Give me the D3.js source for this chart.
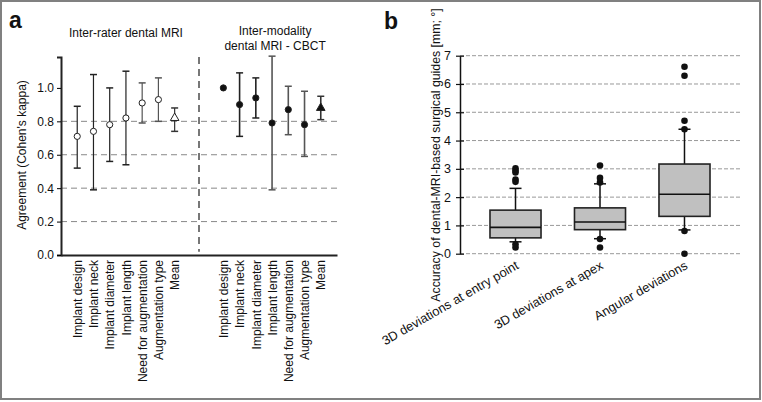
<!DOCTYPE html>
<html><head><meta charset="utf-8">
<script src="https://cdn.jsdelivr.net/npm/d3@7"></script>
<style>
body{margin:0;background:#fff;}
text{font-family:"Liberation Sans",Arial,sans-serif;fill:#111;}
</style></head>
<body><svg id="c" width="762" height="402"></svg>
<script>
// ---------- Panel a data ----------
const categoriesA = ["Implant design","Implant neck","Implant diameter","Implant length","Need for augmentation","Augmentation type","Mean"];
const interRaterKappa = [0.71,0.74,0.78,0.82,0.91,0.93,0.82];
const interRaterLow   = [0.52,0.39,0.56,0.54,0.79,0.80,0.74];
const interRaterHigh  = [0.89,1.08,1.00,1.10,1.03,1.06,0.88];
const interModKappa   = [1.00,0.90,0.94,0.79,0.87,0.78,0.88];
const interModLow     = [null,0.71,0.82,0.39,0.72,0.59,0.81];
const interModHigh    = [null,1.09,1.06,1.19,1.01,0.98,0.95];
const yTicksA = [0.0,0.2,0.4,0.6,0.8,1.0];
const gridA = [0.2,0.4,0.6,0.8];
const titleA1 = "Inter-rater dental MRI";
const titleA2 = ["Inter-modality","dental MRI - CBCT"];

// ---------- Panel b data ----------
const categoriesB = ["3D deviations at entry point","3D deviations at apex","Angular deviations"];
const q1 = [0.56,0.85,1.32];
const median = [0.93,1.12,2.10];
const q3 = [1.54,1.62,3.17];
const whiskerLow = [0.42,0.53,0.84];
const whiskerHigh = [2.31,2.47,4.40];
const outliers = [[3.02,2.94,2.87,2.62,2.54,0.33,0.22],[3.12,2.68,2.52,0.52,0.22],[6.61,6.29,4.70,4.40,0.80,0.0]];
const yTicksB = [0,1,2,3,4,5,6,7];

const svg = d3.select("#c");
svg.append("rect").attr("x",1).attr("y",1).attr("width",759).attr("height",398)
  .attr("fill","none").attr("stroke","#808080").attr("stroke-width",2);

// ================= Panel a =================
const gA = svg.append("g");
const keys = categoriesA.map(c=>"r:"+c).concat(["s1","s2"]).concat(categoriesA.map(c=>"m:"+c));
const xA = d3.scalePoint().domain(keys).range([61,337]).padding(1);
const yA = d3.scaleLinear().domain([0,1.185]).range([255,57]);

gA.selectAll(".grid").data(gridA).join("line")
  .attr("x1",61).attr("x2",337).attr("y1",d=>yA(d)).attr("y2",d=>yA(d))
  .attr("stroke","#888").attr("stroke-width",1).attr("stroke-dasharray","6,4");

// divider
const xDiv = (xA("s1")+xA("s2"))/2;
gA.append("line").attr("x1",xDiv).attr("x2",xDiv).attr("y1",yA(1.185)).attr("y2",yA(0.02))
  .attr("stroke","#777").attr("stroke-width",2).attr("stroke-dasharray","7,5");

const yAxA = gA.append("g").attr("transform","translate(61,0)")
  .call(d3.axisLeft(yA).tickValues(yTicksA).tickFormat(d3.format(".1f")).tickSize(4).tickPadding(3));
yAxA.select(".domain").attr("stroke","#222").attr("stroke-width",2);
yAxA.selectAll("text").style("font-size","12px").attr("fill","#111");
const xAxA = gA.append("g").attr("transform","translate(0,255)")
  .call(d3.axisBottom(xA).tickValues(keys.filter(k=>k.includes(":"))).tickFormat(k=>k.slice(2)).tickSize(0).tickSizeOuter(0));
xAxA.select(".domain").attr("stroke","#222").attr("stroke-width",2);
xAxA.selectAll("text").style("font-size","12px").attr("fill","#111")
  .attr("text-anchor","end").attr("transform","rotate(-90)").attr("x",-5).attr("y",0).attr("dy","0.35em");

function drawGroup(prefix, k, lo, hi, filled, colors){
  const data = categoriesA.map((c,i)=>({key:prefix+c,v:k[i],lo:lo[i],hi:hi[i],col:colors[i],mean:c==="Mean"}));
  const eb = data.filter(d=>d.lo!==null);
  gA.selectAll(null).data(eb).join("line")
    .attr("x1",d=>xA(d.key)).attr("x2",d=>xA(d.key)).attr("y1",d=>yA(d.lo)).attr("y2",d=>yA(d.hi))
    .attr("stroke",d=>d.col).attr("stroke-width",d=>prefix==="m:"?1.6:1.2);
  ["lo","hi"].forEach(f=>{
    gA.selectAll(null).data(eb).join("line")
      .attr("x1",d=>xA(d.key)-3.5).attr("x2",d=>xA(d.key)+3.5).attr("y1",d=>yA(d[f])).attr("y2",d=>yA(d[f]))
      .attr("stroke",d=>d.col).attr("stroke-width",1.5);
  });
  gA.selectAll(null).data(data).join("path")
    .attr("transform",d=>`translate(${xA(d.key)},${yA(d.v)})`)
    .attr("d",d=>d3.symbol().type(d.mean?d3.symbolTriangle:d3.symbolCircle).size(d.mean?32:30)())
    .attr("fill",filled?"#111":"#fff").attr("stroke","#222").attr("stroke-width",1);
}
drawGroup("r:",interRaterKappa,interRaterLow,interRaterHigh,false,["#222","#222","#222","#222","#555","#555","#333"]);
drawGroup("m:",interModKappa,interModLow,interModHigh,true,["#222","#222","#222","#555","#555","#555","#333"]);

gA.append("text").attr("x",d3.mean([xA("r:"+categoriesA[0]),xA("r:Mean")])).attr("y",37)
  .attr("text-anchor","middle").style("font-size","12px").text(titleA1);
gA.selectAll(null).data(titleA2).join("text")
  .attr("x",d3.mean([xA("m:"+categoriesA[0]),xA("m:Mean")])+3).attr("y",(d,i)=>35+i*15)
  .attr("text-anchor","middle").style("font-size","12px").text(d=>d);
gA.append("text").attr("transform","translate(26,155) rotate(-90)").attr("text-anchor","middle")
  .style("font-size","12px").text("Agreement (Cohen's kappa)");
svg.append("text").attr("x",9).attr("y",28).style("font-size","23px").style("font-weight","bold").text("a");

// ================= Panel b =================
const gB = svg.append("g");
const xB = d3.scaleBand().domain(categoriesB).range([460,740]).paddingInner(0.396).paddingOuter(0.355);
const yB = d3.scaleLinear().domain([0,7]).range([253.7,55.7]);

gB.selectAll(null).data(yTicksB).join("line")
  .attr("x1",460).attr("x2",740).attr("y1",d=>yB(d)).attr("y2",d=>yB(d))
  .attr("stroke","#999").attr("stroke-width",1).attr("stroke-dasharray","4,2");

const yAxB = gB.append("g").attr("transform","translate(460,0)")
  .call(d3.axisLeft(yB).tickValues(yTicksB).tickFormat(d3.format("d")).tickSize(4).tickSizeOuter(0).tickPadding(5));
yAxB.select(".domain").attr("stroke","#111").attr("stroke-width",1.5);
yAxB.selectAll(".tick line").attr("x1",4).attr("stroke","#111").attr("stroke-width",1.2);
yAxB.selectAll("text").style("font-size","12.5px").attr("fill","#111");

const boxes = categoriesB.map((c,i)=>({c,q1:q1[i],med:median[i],q3:q3[i],wl:whiskerLow[i],wh:whiskerHigh[i],out:outliers[i]}));
const cx = d=>xB(d.c)+xB.bandwidth()/2;
["wl","wh"].forEach(f=>{
  gB.selectAll(null).data(boxes).join("line")
    .attr("x1",cx).attr("x2",cx).attr("y1",d=>yB(f==="wl"?d.q1:d.q3)).attr("y2",d=>yB(d[f]))
    .attr("stroke","#111").attr("stroke-width",1.5);
  gB.selectAll(null).data(boxes).join("line")
    .attr("x1",d=>cx(d)-6).attr("x2",d=>cx(d)+6).attr("y1",d=>yB(d[f])).attr("y2",d=>yB(d[f]))
    .attr("stroke","#111").attr("stroke-width",1.5);
});
gB.selectAll(null).data(boxes).join("rect")
  .attr("x",d=>xB(d.c)).attr("width",xB.bandwidth()).attr("y",d=>yB(d.q3)).attr("height",d=>yB(d.q1)-yB(d.q3))
  .attr("fill","#c0c0c0").attr("stroke","#222").attr("stroke-width",1.6);
gB.selectAll(null).data(boxes).join("line")
  .attr("x1",d=>xB(d.c)).attr("x2",d=>xB(d.c)+xB.bandwidth()).attr("y1",d=>yB(d.med)).attr("y2",d=>yB(d.med))
  .attr("stroke","#111").attr("stroke-width",1.6);
const pts = boxes.flatMap(d=>d.out.map(v=>({c:d.c,v})));
gB.selectAll(null).data(pts).join("circle")
  .attr("cx",d=>xB(d.c)+xB.bandwidth()/2).attr("cy",d=>yB(d.v)).attr("r",3.3).attr("fill","#111");

gB.selectAll(null).data(categoriesB).join("text")
  .attr("transform",d=>`translate(${xB(d)+xB.bandwidth()/2+4},${268}) rotate(-30)`)
  .attr("text-anchor","end").style("font-size","12.8px").text(d=>d);

gB.append("text").attr("transform","translate(440,155) rotate(-90)").attr("text-anchor","middle")
  .style("font-size","12.3px").text("Accuracy of dental-MRI-based surgical guides [mm; °]");
svg.append("text").attr("x",384).attr("y",29).style("font-size","23px").style("font-weight","bold").text("b");
</script></body></html>
